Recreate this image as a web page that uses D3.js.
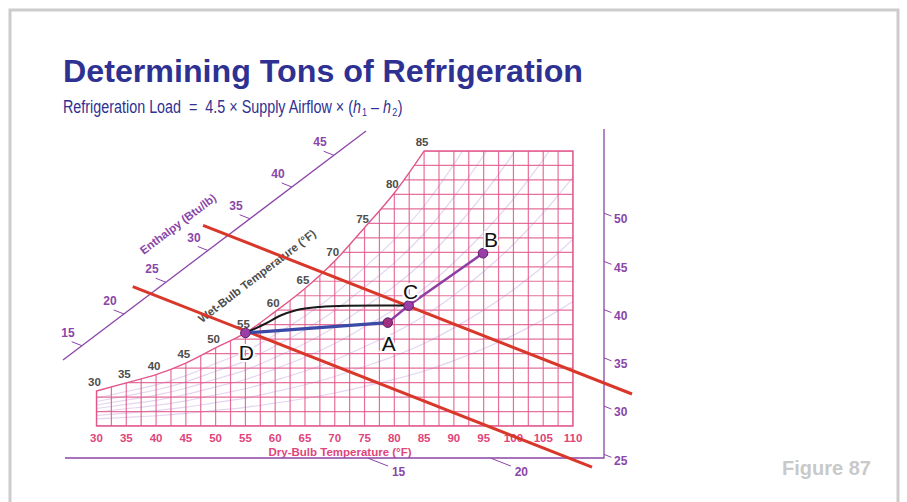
<!DOCTYPE html>
<html><head><meta charset="utf-8">
<script src="https://cdn.jsdelivr.net/npm/d3@7"></script>
<style>body{margin:0;background:#fff}svg{display:block}</style>
</head><body><svg id="c" width="907" height="502"></svg>
<script>
// ---------------- data ----------------
const titleText = "Determining Tons of Refrigeration";
const figureText = "Figure 87";
const dryBulbTicks = [30,35,40,45,50,55,60,65,70,75,80,85,90,95,100,105,110];
const satT = [30,35,40,45,50,55,60,65,70,75,80,85,90,95,100,105,110];
const satW = [24.2,29.8,35.5,43.5,54,64.3,79,95,114,137,161,190,226,267,314,368,430];
const wetBulbLabels = [30,35,40,45,50,55,60,65,70,75,80,85];
const rhLevels = [0.2,0.3,0.4,0.5,0.6,0.7,0.8];
const enthalpyLeftTicks = [15,20,25,30,35,40,45];
const enthalpyBottomTicks = [15,20];
const enthalpyRightTicks = [25,30,35,40,45,50];
const stateNames = ["A","B","C","D"];
const stateT = [78.9,94.9,82.4,55];
const stateW = [71.4,119.4,83.2,64.3];
const mixOrder = ["B","C","A"];
const sensibleOrder = ["D","A"];
const coilT = [55,58.5,61,63.5,67.5,72,77,82.4];
const coilW = [64.3,71,76.5,80,82.3,83.1,83.3,83.2];
const loadH = [32.4, 23.2]; // h1 (mixed air), h2 (supply air)

// ---------------- layout ----------------
const svg = d3.select("#c");
const x = d3.scaleLinear().domain([30,110]).range([96.5,573]);
const y = d3.scaleLinear().domain([0,190]).range([426,151]);
const Wtop = 190;
const satPts = satT.map((t,i)=>[t,satW[i]]);
const satVisible = satPts.filter(p=>p[0]<=85);
const ENTH_SLOPE = 0.393;
const hx = d3.scaleLinear().domain([15,45]).range([81.9,333.9]);
const axisA = [63,360], axisB = [366,131];
const axisSlope = (axisB[1]-axisA[1])/(axisB[0]-axisA[0]);
const hp = h => { const px = hx(h); return [px, axisA[1] + axisSlope*(px-axisA[0])]; };
const hLineY = (h, px) => { const p = hp(h); return p[1] + ENTH_SLOPE*(px-p[0]); };
const hLineX = (h, py) => { const p = hp(h); return p[0] + (py-p[1])/ENTH_SLOPE; };
const dirLen = Math.hypot(1, ENTH_SLOPE);
const ux = 1/dirLen, uy = ENTH_SLOPE/dirLen;
const bottomY = 458, rightX = 604, rightTop = 129, bottomLeft = 65;

const PINK = "#e2578a", PINK_T = "#e0457b", PURPLE = "#8a46a8", GRAYTXT = "#4d4d4d";
const FONT = "'Liberation Sans', Arial, sans-serif";

// frame
svg.append("rect").attr("x",10).attr("y",10).attr("width",888).attr("height",500)
  .attr("fill","none").attr("stroke","#cccccc").attr("stroke-width",3);

// title
svg.append("text").attr("x",63).attr("y",82).text(titleText)
  .attr("font-family",FONT).attr("font-weight","bold").attr("font-size",31.5)
  .attr("fill","#2e3192").attr("textLength",520).attr("lengthAdjust","spacingAndGlyphs");

// subtitle (condensed via horizontal scale)
const sub = svg.append("text").attr("transform","translate(63,113) scale(0.82,1)")
  .style("white-space","pre")
  .attr("font-family",FONT).attr("font-size",17.5).attr("fill","#2e3192");
sub.append("tspan").text("Refrigeration Load  =  4.5 \u00d7 Supply Airflow \u00d7 (");
sub.append("tspan").attr("font-style","italic").text("h");
sub.append("tspan").attr("font-size",11).attr("dx",1.5).attr("dy",3).text("1");
sub.append("tspan").attr("dy",-3).text(" \u2013 ");
sub.append("tspan").attr("font-style","italic").text("h");
sub.append("tspan").attr("font-size",11).attr("dx",1.5).attr("dy",3).text("2");
sub.append("tspan").attr("dy",-3).attr("dx",0.5).text(")");

// figure label
svg.append("text").attr("x",782).attr("y",475).text(figureText)
  .attr("font-family",FONT).attr("font-weight","bold").attr("font-size",20).attr("fill","#c9c9c9");

// ---------- chart region ----------
const satLine = d3.line().x(d=>x(d[0])).y(d=>y(d[1])).curve(d3.curveMonotoneX);
const regionPath = "M" + x(30) + "," + y(0) + " L" + satLine(satVisible).slice(1) +
  " L" + x(110) + "," + y(Wtop) + " L" + x(110) + "," + y(0) + " Z";
const defs = svg.append("defs");
defs.append("clipPath").attr("id","clipRegion").append("path").attr("d",regionPath);

const grid = svg.append("g").attr("clip-path","url(#clipRegion)");
// RH curves (faint)
rhLevels.forEach(r=>{
  grid.append("path").attr("d", satLine(satPts.map(p=>[p[0], p[1]*r])))
    .attr("fill","none").attr("stroke","#b896d6").attr("stroke-width",1.2).attr("opacity",0.4);
});
// vertical grid
d3.range(30,110.01,2.5).forEach(t=>{
  grid.append("line").attr("x1",x(t)).attr("x2",x(t)).attr("y1",y(0)).attr("y2",y(Wtop))
    .attr("stroke",PINK).attr("stroke-width",1.2).attr("opacity",0.85);
});
// horizontal grid
d3.range(0,Wtop+0.1,10).forEach(w=>{
  grid.append("line").attr("x1",x(30)).attr("x2",x(110)).attr("y1",y(w)).attr("y2",y(w))
    .attr("stroke",PINK).attr("stroke-width",1.2).attr("opacity",0.85);
});
// outline
svg.append("path").attr("d",regionPath).attr("fill","none").attr("stroke",PINK).attr("stroke-width",1.4);

// dry bulb labels
svg.append("g").selectAll("text").data(dryBulbTicks).join("text")
  .attr("x",d=>x(d)).attr("y",442).attr("text-anchor","middle").text(d=>d)
  .attr("font-family",FONT).attr("font-weight","bold").attr("font-size",11.5).attr("fill",PINK_T);
svg.append("text").attr("x",340).attr("y",456).attr("text-anchor","middle").text("Dry-Bulb Temperature (\u00b0F)")
  .attr("font-family",FONT).attr("font-weight","bold").attr("font-size",11.5).attr("fill",PINK_T);

// wet bulb labels
svg.append("g").selectAll("text").data(wetBulbLabels).join("text")
  .attr("x",d=>x(d)-2).attr("y",d=>y(satW[satT.indexOf(d)])-5).attr("text-anchor","middle").text(d=>d)
  .attr("font-family",FONT).attr("font-weight","bold").attr("font-size",11.5).attr("fill",GRAYTXT);
svg.append("text").attr("transform","translate(257,276) rotate(-37.5)").attr("text-anchor","middle")
  .attr("dy","0.35em").text("Wet-Bulb Temperature (\u00b0F)")
  .attr("font-family",FONT).attr("font-weight","bold").attr("font-size",11.5).attr("fill",GRAYTXT);

// enthalpy axes
svg.append("line").attr("x1",axisA[0]).attr("y1",axisA[1]).attr("x2",axisB[0]).attr("y2",axisB[1])
  .attr("stroke",PURPLE).attr("stroke-width",1.3);
svg.append("path").attr("d",`M${bottomLeft},${bottomY} L${rightX},${bottomY} L${rightX},${rightTop}`)
  .attr("fill","none").attr("stroke",PURPLE).attr("stroke-width",1.3);
const eg = svg.append("g").attr("font-family",FONT).attr("font-weight","bold").attr("font-size",12).attr("fill",PURPLE);
enthalpyLeftTicks.forEach(h=>{
  const p = hp(h);
  eg.append("line").attr("x1",p[0]).attr("y1",p[1]).attr("x2",p[0]-11*ux).attr("y2",p[1]-11*uy)
    .attr("stroke",PURPLE).attr("stroke-width",1);
  eg.append("text").attr("x",p[0]-14).attr("y",p[1]-13).attr("dy","0.35em").attr("text-anchor","middle").text(h);
});
enthalpyBottomTicks.forEach(h=>{
  const bx = hLineX(h,bottomY);
  eg.append("line").attr("x1",bx).attr("y1",bottomY).attr("x2",bx+22*ux).attr("y2",bottomY+22*uy)
    .attr("stroke",PURPLE).attr("stroke-width",1);
  eg.append("text").attr("x",bx+31).attr("y",bottomY+14).attr("dy","0.35em").attr("text-anchor","middle").text(h);
});
enthalpyRightTicks.forEach(h=>{
  const ry = hLineY(h,rightX);
  eg.append("line").attr("x1",rightX).attr("y1",ry).attr("x2",rightX+8*ux).attr("y2",ry+8*uy)
    .attr("stroke",PURPLE).attr("stroke-width",1);
  eg.append("text").attr("x",rightX+10).attr("y",ry+6).attr("dy","0.35em").text(h);
});
svg.append("text").attr("transform","translate(178,224) rotate(-37)").attr("text-anchor","middle")
  .attr("dy","0.35em").text("Enthalpy (Btu/lb)")
  .attr("font-family",FONT).attr("font-weight","bold").attr("font-size",11.5).attr("fill",PURPLE);

// red enthalpy lines for h1, h2
const redStartExt = [25,18];
const redEnd = [632,592];
loadH.forEach((h,i)=>{
  const p = hp(h);
  const x0 = p[0]-redStartExt[i], x1 = redEnd[i];
  svg.append("line").attr("x1",x0).attr("y1",hLineY(h,x0)).attr("x2",x1).attr("y2",hLineY(h,x1))
    .attr("stroke","#d8372a").attr("stroke-width",3);
});

// process lines
const st = name => { const i = stateNames.indexOf(name); return [stateT[i], stateW[i]]; };
const lin = d3.line().x(d=>x(d[0])).y(d=>y(d[1]));
svg.append("path").attr("d", d3.line().x(d=>x(d[0])).y(d=>y(d[1])).curve(d3.curveMonotoneX)(coilT.map((t,i)=>[t,coilW[i]])))
  .attr("fill","none").attr("stroke","#1a1a1a").attr("stroke-width",2);
svg.append("path").attr("d", lin(sensibleOrder.map(st)))
  .attr("fill","none").attr("stroke","#3b4aa6").attr("stroke-width",3.2);
svg.append("path").attr("d", lin(mixOrder.map(st)))
  .attr("fill","none").attr("stroke","#8e3fa3").attr("stroke-width",2.5);

// state points
const labelOff = {A:[1,21],B:[8,-14],C:[2,-14],D:[1,20]};
stateNames.forEach((n,i)=>{
  svg.append("circle").attr("cx",x(stateT[i])).attr("cy",y(stateW[i])).attr("r",4.8)
    .attr("fill", n==="A" ? "#a0307f" : "#9a3fa8").attr("stroke","#5e1c6a").attr("stroke-width",1);
  svg.append("text").attr("x",x(stateT[i])+labelOff[n][0]).attr("y",y(stateW[i])+labelOff[n][1])
    .attr("dy","0.35em").attr("text-anchor","middle").text(n)
    .attr("font-family",FONT).attr("font-size",21).attr("fill","#111")
    .attr("stroke","#fff").attr("stroke-width",4).attr("paint-order","stroke");
});
</script></body></html>
